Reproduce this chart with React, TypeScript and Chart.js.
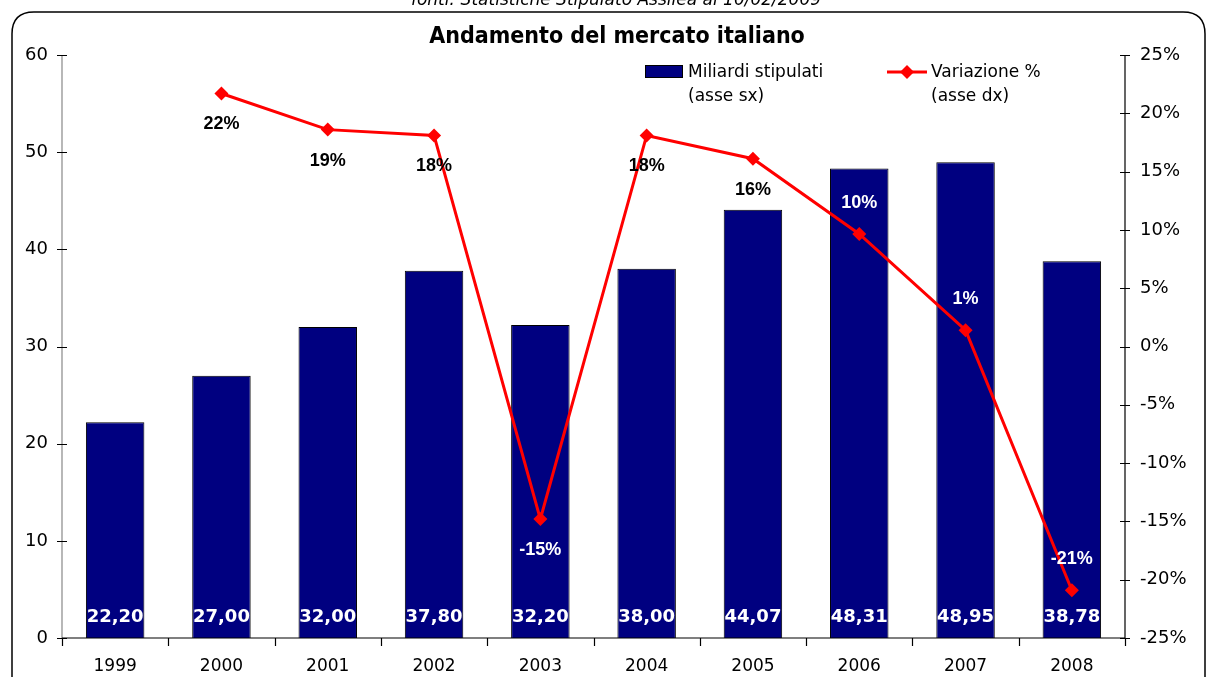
import React, { useEffect, useRef } from "react";
import { Chart, registerables } from "chart.js";

Chart.register(...registerables);

const years = ["1999", "2000", "2001", "2002", "2003", "2004", "2005", "2006", "2007", "2008"];
const miliardi = [22.2, 27.0, 32.0, 37.8, 32.2, 38.0, 44.07, 48.31, 48.95, 38.78];
const variazione = [null, 21.7, 18.6, 18.1, -14.8, 18.1, 16.1, 9.65, 1.4, -20.9];
const variazioneLabels = ["", "22%", "19%", "18%", "-15%", "18%", "16%", "10%", "1%", "-21%"];
const leftTicks = [0, 10, 20, 30, 40, 50, 60];
const rightTicks = [-25, -20, -15, -10, -5, 0, 5, 10, 15, 20, 25];

const title = "Andamento del mercato italiano";
const subtitle = "fonti: Statistiche Stipulato Assilea al 10/02/2009";
const barLegend = ["Miliardi stipulati", "(asse sx)"];
const lineLegend = ["Variazione %", "(asse dx)"];

// label placement/colour (style only)
const labelSide = ["", "below", "below", "below", "below", "below", "below", "above", "above", "above"];
const labelColor = ["", "#000", "#000", "#000", "#fff", "#000", "#000", "#fff", "#fff", "#fff"];

const NAVY = "#000080";
const RED = "#ff0000";
const FONT = "'DejaVu Sans', Verdana, sans-serif";

function diamond(ctx: CanvasRenderingContext2D, x: number, y: number, r: number) {
  ctx.beginPath();
  ctx.moveTo(x, y - r);
  ctx.lineTo(x + r, y);
  ctx.lineTo(x, y + r);
  ctx.lineTo(x - r, y);
  ctx.closePath();
  ctx.fill();
}

const decorPlugin = {
  id: "decor",
  beforeDraw(chart: any) {
    const ctx: CanvasRenderingContext2D = chart.ctx;
    ctx.save();
    ctx.fillStyle = "#fff";
    ctx.fillRect(0, 0, chart.width, chart.height);
    // frame
    ctx.strokeStyle = "#000";
    ctx.lineWidth = 1.5;
    const x0 = 12, y0 = 12, x1 = 1205, y1 = 700, r = 22;
    ctx.beginPath();
    ctx.moveTo(x0 + r, y0);
    ctx.lineTo(x1 - r, y0);
    ctx.quadraticCurveTo(x1, y0, x1, y0 + r);
    ctx.lineTo(x1, y1);
    ctx.moveTo(x0, y1);
    ctx.lineTo(x0, y0 + r);
    ctx.quadraticCurveTo(x0, y0, x0 + r, y0);
    ctx.stroke();
    // subtitle (cut at top)
    ctx.fillStyle = "#000";
    ctx.font = `italic 17px ${FONT}`;
    ctx.textAlign = "center";
    ctx.textBaseline = "alphabetic";
    ctx.fillText(subtitle, 616, 5);
    // title
    ctx.font = `bold 23px 'DejaVu Sans Condensed', ${FONT}`;
    ctx.textBaseline = "middle";
    ctx.fillText(title, 617, 37);
    // legend
    ctx.textAlign = "left";
    ctx.font = `17px ${FONT}`;
    ctx.fillStyle = NAVY;
    ctx.fillRect(645, 65, 37, 12);
    ctx.strokeStyle = "#000";
    ctx.lineWidth = 1;
    ctx.strokeRect(645.5, 65.5, 37, 12);
    ctx.fillStyle = "#000";
    ctx.fillText(barLegend[0], 688, 73);
    ctx.fillText(barLegend[1], 688, 97);
    ctx.strokeStyle = RED;
    ctx.lineWidth = 3;
    ctx.beginPath();
    ctx.moveTo(887, 72);
    ctx.lineTo(927, 72);
    ctx.stroke();
    ctx.fillStyle = RED;
    diamond(ctx, 907, 72, 7);
    ctx.fillStyle = "#000";
    ctx.fillText(lineLegend[0], 931, 73);
    ctx.fillText(lineLegend[1], 931, 97);
    ctx.restore();
  },
  afterDatasetsDraw(chart: any) {
    const ctx: CanvasRenderingContext2D = chart.ctx;
    const { x, y, y1 } = chart.scales;
    const area = chart.chartArea;
    ctx.save();
    // axes lines
    ctx.lineWidth = 1.2;
    ctx.strokeStyle = "#888";
    ctx.beginPath();
    ctx.moveTo(area.left, area.top);
    ctx.lineTo(area.left, area.bottom);
    ctx.stroke();
    ctx.strokeStyle = "#000";
    ctx.beginPath();
    leftTicks.forEach((v) => {
      const py = Math.round(y.getPixelForValue(v)) + 0.5;
      ctx.moveTo(area.left - 5, py);
      ctx.lineTo(area.left + 5, py);
    });
    ctx.stroke();
    ctx.strokeStyle = "#000";
    ctx.beginPath();
    ctx.moveTo(area.right, area.top);
    ctx.lineTo(area.right, area.bottom);
    rightTicks.forEach((v) => {
      const py = Math.round(y1.getPixelForValue(v)) + 0.5;
      ctx.moveTo(area.right - 5, py);
      ctx.lineTo(area.right + 5, py);
    });
    ctx.stroke();
    ctx.beginPath();
    ctx.moveTo(area.left, area.bottom);
    ctx.lineTo(area.right, area.bottom);
    const step = (area.right - area.left) / years.length;
    for (let i = 0; i <= years.length; i++) {
      const px = Math.round(area.left + i * step) + 0.5;
      ctx.moveTo(px, area.bottom);
      ctx.lineTo(px, area.bottom + 8);
    }
    ctx.stroke();

    // bar value labels
    ctx.fillStyle = "#fff";
    ctx.font = `bold 18px ${FONT}`;
    ctx.textAlign = "center";
    ctx.textBaseline = "middle";
    const y0 = y.getPixelForValue(0);
    miliardi.forEach((v, i) => {
      const px = x.getPixelForValue(i);
      ctx.fillText(v.toFixed(2).replace(".", ","), px, y0 - 21);
    });
    // line labels
    ctx.font = `bold 18px 'Liberation Sans', Arial, sans-serif`;
    variazione.forEach((v, i) => {
      if (v === null) return;
      const px = x.getPixelForValue(i);
      const py = y1.getPixelForValue(v);
      ctx.fillStyle = labelColor[i];
      const off = labelSide[i] === "below" ? 31 : -31;
      ctx.fillText(variazioneLabels[i], px, py + off);
    });
    ctx.restore();
  },
};

export default function App() {
  const ref = useRef<HTMLCanvasElement>(null);
  useEffect(() => {
    if (!ref.current) return;
    const chart = new Chart(ref.current, {
      type: "bar",
      data: {
        labels: years,
        datasets: [
          {
            type: "line",
            label: "Variazione %",
            data: variazione as any,
            yAxisID: "y1",
            borderColor: RED,
            backgroundColor: RED,
            borderWidth: 3,
            pointStyle: "rectRot",
            pointRadius: 7,
            pointBackgroundColor: RED,
            pointBorderColor: RED,
            pointBorderWidth: 0,
            tension: 0,
            spanGaps: false,
            order: 0,
          } as any,
          {
            type: "bar",
            label: "Miliardi stipulati",
            data: miliardi,
            yAxisID: "y",
            backgroundColor: NAVY,
            borderColor: "#000",
            borderWidth: 1,
            barPercentage: 0.55,
            categoryPercentage: 1,
            order: 1,
          } as any,
        ],
      },
      options: {
        animation: false,
        responsive: false,
        maintainAspectRatio: false,
        layout: { padding: { top: 55, left: 0, right: 0, bottom: 0 } },
        plugins: { legend: { display: false }, title: { display: false }, tooltip: { enabled: false } },
        scales: {
          x: {
            grid: { display: false },
            border: { display: false },
            ticks: { color: "#000", font: { family: FONT, size: 17 }, padding: 10 },
            afterFit: (s: any) => { s.height = 39; },
          },
          y: {
            position: "left",
            min: 0,
            max: 60,
            grid: { display: false },
            border: { display: false },
            ticks: { stepSize: 10, color: "#000", font: { family: FONT, size: 18 }, padding: 6 },
            afterFit: (s: any) => { s.width = 62; },
          },
          y1: {
            position: "right",
            min: -25,
            max: 25,
            grid: { display: false },
            border: { display: false },
            ticks: {
              stepSize: 5,
              color: "#000",
              font: { family: FONT, size: 18 },
              padding: 7,
              callback: (v: any) => `${v}%`,
            },
            afterFit: (s: any) => { s.width = 81; },
          },
        },
      },
      plugins: [decorPlugin],
    });
    return () => chart.destroy();
  }, []);
  return (
    <div style={{ position: "fixed", left: 0, top: 0, width: 1206, height: 677 }}>
      <canvas ref={ref} width={1206} height={677} style={{ width: 1206, height: 677, display: "block" }} />
    </div>
  );
}
